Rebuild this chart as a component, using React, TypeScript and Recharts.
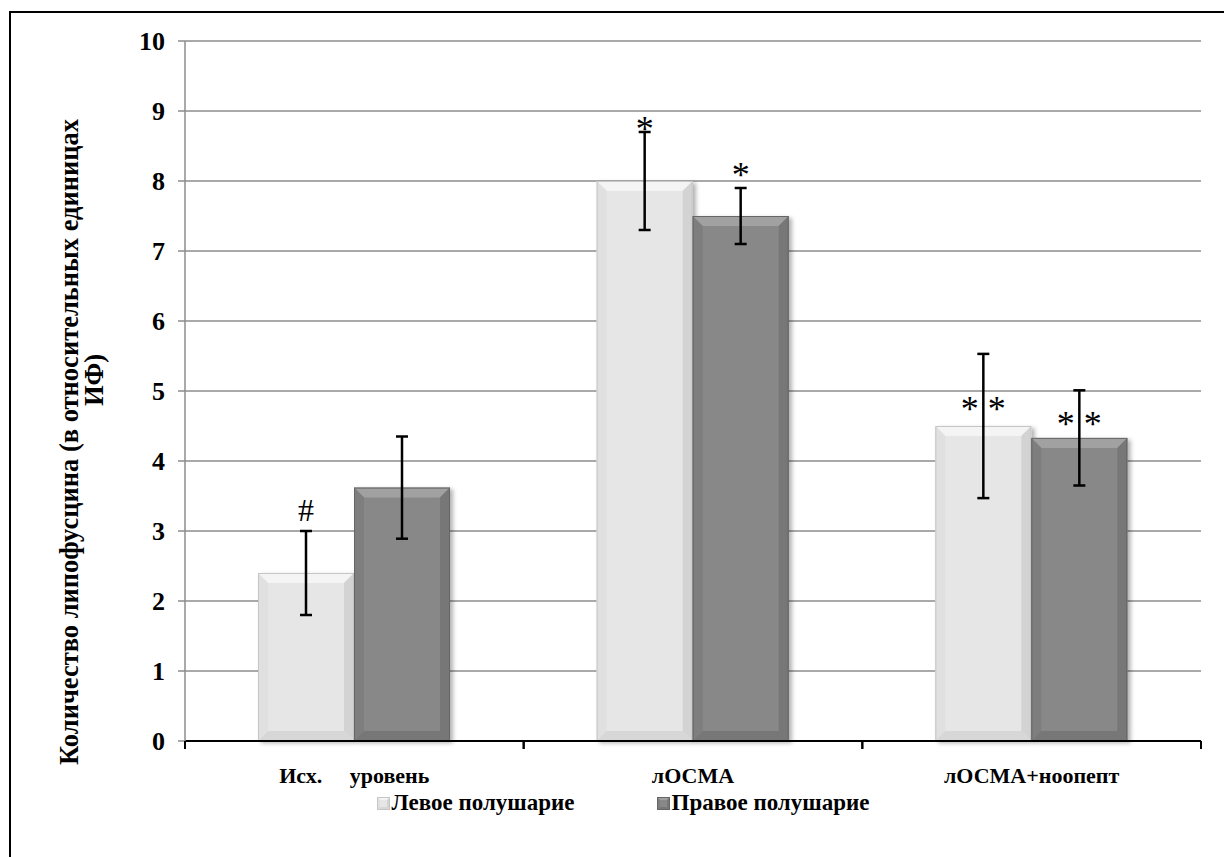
import { BarChart, Bar, XAxis, YAxis, CartesianGrid, ErrorBar, LabelList, Legend } from 'recharts'

// Lipofuscin content by hemisphere, relative fluorescence units
const categories = ['Исх.     уровень', 'лОСМА', 'лОСМА+ноопепт']
const leftValues = [2.4, 8.0, 4.5]
const rightValues = [3.62, 7.5, 4.33]
const leftErrors = [0.6, 0.7, 1.03]
const rightErrors = [0.73, 0.4, 0.68]
const leftNotes = ['#', '*', '* *']
const rightNotes = ['', '*', '* *']
const leftNoteLevels = [3.3, 8.8, 4.8]
const rightNoteLevels = [0, 8.14, 4.59]
const yTicks = [0, 1, 2, 3, 4, 5, 6, 7, 8, 9, 10]

const seriesNames = ['Левое полушарие', 'Правое полушарие']

const data = categories.map((name, i) => ({
  name,
  left: leftValues[i],
  right: rightValues[i],
  leftErr: leftErrors[i],
  rightErr: rightErrors[i],
  leftNote: leftNotes[i],
  rightNote: rightNotes[i],
}))

const FONT = 'Liberation Serif, Times New Roman, serif'

type Tone = { face: string; top: string; left: string; right: string; bottom: string; edge: string }

const LIGHT: Tone = { face: '#e6e6e6', top: '#f4f4f4', left: '#e0e0e0', right: '#d3d3d3', bottom: '#d7d7d7', edge: '#c6c6c6' }
const DARK: Tone = { face: '#888888', top: '#a1a1a1', left: '#7e7e7e', right: '#777777', bottom: '#777777', edge: '#666666' }

// beveled block, like an office "soft edge" bar
function BevelRect({ x, y, width, height, tone, bevel = 10, shadow = true }: any) {
  if (!height || height <= 0) return null
  const b = Math.min(bevel, width / 2, height / 2)
  const r = x + width
  const btm = y + height
  return (
    <g filter={shadow ? 'url(#barShadow)' : undefined}>
      <rect x={x} y={y} width={width} height={height} fill={tone.face} />
      <polygon points={`${x},${y} ${r},${y} ${r - b},${y + b} ${x + b},${y + b}`} fill={tone.top} />
      <polygon points={`${x},${y} ${x + b},${y + b} ${x + b},${btm - b} ${x},${btm}`} fill={tone.left} />
      <polygon points={`${r},${y} ${r},${btm} ${r - b},${btm - b} ${r - b},${y + b}`} fill={tone.right} />
      <polygon points={`${x},${btm} ${x + b},${btm - b} ${r - b},${btm - b} ${r},${btm}`} fill={tone.bottom} />
      <rect x={x + 0.5} y={y + 0.5} width={width - 1} height={height - 1} fill="none" stroke={tone.edge} strokeWidth={1} />
    </g>
  )
}

// significance mark placed at a given level on the value scale
function makeNote(levels: number[], notes: string[], values: number[]) {
  return (props: any) => {
    const { x, y, width, height, index } = props
    const text = notes[index]
    if (!text) return null
    const perUnit = height / values[index]
    const cy = y + height - levels[index] * perUnit
    const isStar = text.includes('*')
    return (
      <text
        x={x + width / 2}
        y={isStar ? cy + 16 : cy + 11}
        textAnchor="middle"
        fontFamily={FONT}
        fontSize={isStar ? 36 : 32}
        fill="#000"
        style={{ whiteSpace: 'pre' }}
      >
        {text}
      </text>
    )
  }
}

// category name plus tick marks on both edges of the band
function GroupTick({ x, y, payload, width, visibleTicksCount }: any) {
  const half = payload.offset ?? width / visibleTicksCount / 2
  return (
    <g>
      <line x1={x - half} y1={y} x2={x - half} y2={y + 8} stroke="#000" strokeWidth={2} />
      <line x1={x + half} y1={y} x2={x + half} y2={y + 8} stroke="#000" strokeWidth={2} />
      <text
        x={x}
        y={y + 42}
        textAnchor="middle"
        fontFamily={FONT}
        fontWeight="bold"
        fontSize={22}
        fill="#000"
        style={{ whiteSpace: 'pre' }}
      >
        {payload.value}
      </text>
    </g>
  )
}

function LegendBox() {
  const tones = [LIGHT, DARK]
  return (
    <div style={{ display: 'flex', justifyContent: 'center', gap: 82, fontFamily: FONT, fontWeight: 'bold', fontSize: 23 }}>
      {seriesNames.map((n, i) => (
        <div key={n} style={{ display: 'flex', alignItems: 'center' }}>
          <svg width={13} height={13} style={{ marginRight: 2 }}>
            <BevelRect x={0} y={0} width={13} height={13} tone={tones[i]} bevel={3} shadow={false} />
          </svg>
          <span>{n}</span>
        </div>
      ))}
    </div>
  )
}

function YTitle() {
  return (
    <g fontFamily={FONT} fontWeight="bold" fontSize={26.5} fill="#000">
      <text transform="translate(78, 442) rotate(-90)" textAnchor="middle">
        Количество липофусцина (в относительных единицах
      </text>
      <text transform="translate(103, 380) rotate(-90)" textAnchor="middle">
        ИФ)
      </text>
    </g>
  )
}

export default function App() {
  return (
    <div style={{ position: 'fixed', left: 0, top: 0, width: 1224, height: 857, overflow: 'hidden', background: '#fff' }}>
      <div
        style={{
          position: 'absolute',
          left: 9,
          top: 11,
          width: 1400,
          height: 1000,
          border: '2px solid #000',
          boxSizing: 'border-box',
        }}
      />
      <div style={{ position: 'absolute', left: 0, top: 0 }}>
        <BarChart
          width={1224}
          height={857}
          data={data}
          margin={{ top: 41, right: 23, left: 125, bottom: 45 }}
          barSize={96}
          barGap={0}
        >
          <defs>
            <filter id="barShadow" x="-10%" y="-10%" width="130%" height="130%">
              <feDropShadow dx={3} dy={2} stdDeviation={2} floodColor="#000" floodOpacity={0.3} />
            </filter>
          </defs>
          <CartesianGrid vertical={false} stroke="#8c8c8c" strokeWidth={1.5} />
          <XAxis
            dataKey="name"
            interval={0}
            height={45}
            tickSize={0}
            tickMargin={0}
            tickLine={false}
            tick={<GroupTick />}
            axisLine={{ stroke: '#000', strokeWidth: 2 }}
          />
          <YAxis
            width={60}
            domain={[0, 10]}
            ticks={yTicks}
            interval={0}
            tickSize={7}
            tickMargin={13}
            axisLine={{ stroke: '#8c8c8c', strokeWidth: 1.5 }}
            tickLine={{ stroke: '#8c8c8c', strokeWidth: 1.5 }}
            tick={{ fontFamily: FONT, fontWeight: 'bold', fontSize: 26, fill: '#000' }}
            label={<YTitle />}
          />
          <Legend
            verticalAlign="bottom"
            content={<LegendBox />}
            wrapperStyle={{ left: 0, width: 1246, top: 790, bottom: 'auto' }}
          />
          <Bar
            dataKey="left"
            name={seriesNames[0]}
            isAnimationActive={false}
            shape={(p: any) => <BevelRect {...p} tone={LIGHT} />}
          >
            <ErrorBar dataKey="leftErr" width={6} strokeWidth={2.5} stroke="#000" direction="y" isAnimationActive={false} />
            <LabelList dataKey="leftNote" content={makeNote(leftNoteLevels, leftNotes, leftValues)} />
          </Bar>
          <Bar
            dataKey="right"
            name={seriesNames[1]}
            isAnimationActive={false}
            shape={(p: any) => <BevelRect {...p} tone={DARK} />}
          >
            <ErrorBar dataKey="rightErr" width={6} strokeWidth={2.5} stroke="#000" direction="y" isAnimationActive={false} />
            <LabelList dataKey="rightNote" content={makeNote(rightNoteLevels, rightNotes, rightValues)} />
          </Bar>
        </BarChart>
      </div>
    </div>
  )
}
